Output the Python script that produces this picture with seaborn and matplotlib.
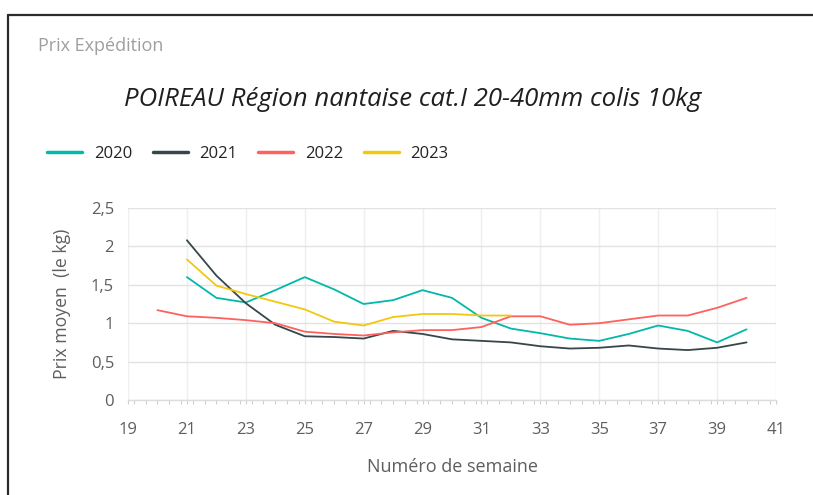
import matplotlib
matplotlib.use("Agg")
import matplotlib.pyplot as plt
import matplotlib.ticker as mticker
from matplotlib.lines import Line2D
import numpy as np
import pandas as pd
import seaborn as sns

# ---- data ----
weeks_2020 = [21, 22, 23, 24, 25, 26, 27, 28, 29, 30, 31, 32, 33, 34, 35, 36, 37, 38, 39, 40]
prix_2020 = [1.60, 1.33, 1.27, 1.43, 1.60, 1.44, 1.25, 1.30, 1.43, 1.33, 1.07, 0.93, 0.87, 0.80, 0.77, 0.86, 0.97, 0.90, 0.75, 0.92]

weeks_2021 = [21, 22, 23, 24, 25, 26, 27, 28, 29, 30, 31, 32, 33, 34, 35, 36, 37, 38, 39, 40]
prix_2021 = [2.08, 1.62, 1.26, 0.98, 0.83, 0.82, 0.80, 0.90, 0.86, 0.79, 0.77, 0.75, 0.70, 0.67, 0.68, 0.71, 0.67, 0.65, 0.68, 0.75]

weeks_2022 = [20, 21, 22, 23, 24, 25, 26, 27, 28, 29, 30, 31, 32, 33, 34, 35, 36, 37, 38, 39, 40]
prix_2022 = [1.17, 1.09, 1.07, 1.04, 1.00, 0.89, 0.86, 0.84, 0.88, 0.91, 0.91, 0.95, 1.09, 1.09, 0.98, 1.00, 1.05, 1.10, 1.10, 1.20, 1.33]

weeks_2023 = [21, 22, 23, 24, 25, 26, 27, 28, 29, 30, 31, 32]
prix_2023 = [1.83, 1.49, 1.38, 1.28, 1.18, 1.02, 0.97, 1.08, 1.12, 1.12, 1.10, 1.10]

years = ["2020", "2021", "2022", "2023"]
x_ticks = [19, 21, 23, 25, 27, 29, 31, 33, 35, 37, 39, 41]
y_ticks = [0, 0.5, 1, 1.5, 2, 2.5]

frames = []
for yr, w, p in zip(years, [weeks_2020, weeks_2021, weeks_2022, weeks_2023],
                    [prix_2020, prix_2021, prix_2022, prix_2023]):
    frames.append(pd.DataFrame({"Semaine": w, "Prix": p, "Année": yr}))
df = pd.concat(frames, ignore_index=True)

palette = {"2020": "#01B8AA", "2021": "#374649", "2022": "#FD625E", "2023": "#F2C80F"}

# ---- styling ----
sns.set_theme(style="white")
plt.rcParams["font.family"] = ["Open Sans", "DejaVu Sans"]

W, H = 813, 495
fig = plt.figure(figsize=(W / 100, H / 100), dpi=100)
fig.patch.set_facecolor("white")

ax_l, ax_r, ax_t, ax_b = 128, 776, 208, 400
ax = fig.add_axes([ax_l / W, 1 - ax_b / H, (ax_r - ax_l) / W, (ax_b - ax_t) / H])

sns.lineplot(data=df, x="Semaine", y="Prix", hue="Année", palette=palette,
             linewidth=1.3, ax=ax, legend=False, sort=True)

ax.set_xlim(19, 41)
ax.set_ylim(0, 2.5)
ax.set_xticks(x_ticks)
ax.set_yticks(y_ticks)
ax.xaxis.set_minor_locator(mticker.MultipleLocator(0.4))
ax.yaxis.set_major_formatter(mticker.FuncFormatter(lambda v, p: (f"{v:g}").replace(".", ",")))

tick_col = "#605E5C"
ax.tick_params(axis="x", which="both", direction="out", length=3, width=0.8,
               color="#cfcfcf", labelsize=12, labelcolor=tick_col, pad=13, bottom=True)
ax.tick_params(axis="y", which="both", length=0, labelsize=12, labelcolor=tick_col, pad=10)

ax.grid(axis="y", color="#e2e2e2", linewidth=1.0)
ax.grid(axis="x", which="major", color="#efefef", linewidth=1.0)
ax.set_axisbelow(True)
for s in ["top", "right", "left"]:
    ax.spines[s].set_visible(False)
ax.spines["bottom"].set_color("#dcdcdc")
ax.spines["bottom"].set_linewidth(1.0)

ax.set_xlabel("Numéro de semaine", fontsize=13, color=tick_col)
ax.xaxis.set_label_coords(0.5, (ax_b - 467) / (ax_b - ax_t))
ax.xaxis.label.set_va("center")
ax.set_ylabel("Prix moyen  (le kg)", fontsize=12.7, color=tick_col)
ax.yaxis.set_label_coords((62 - ax_l) / (ax_r - ax_l), (ax_b - 304) / (ax_b - ax_t))
ax.yaxis.label.set_va("center")

# legend
handles = [Line2D([0], [0], color=palette[y], linewidth=2.5) for y in years]
fig.legend(handles, years, loc="center left", bbox_to_anchor=(32 / W, 1 - 154 / H),
           ncol=4, frameon=False, fontsize=12, handlelength=2.1, handletextpad=0.7,
           columnspacing=1.25, labelcolor="#252423")

# titles
fig.text(38 / W, 1 - 46 / H, "Prix Expédition", fontsize=13, color="#a19f9d",
         ha="left", va="center")
fig.text(413 / W, 1 - 100 / H, "POIREAU Région nantaise cat.I 20-40mm colis 10kg",
         fontsize=18.5, style="italic", color="#1f1f1f", ha="center", va="center")

# panel border (top and left edges)
fig.add_artist(Line2D([7.5 / W, 1], [1 - 14.5 / H, 1 - 14.5 / H], transform=fig.transFigure,
                      color="#2b2b2b", linewidth=1.6))
fig.add_artist(Line2D([7.5 / W, 7.5 / W], [0, 1 - 14.5 / H], transform=fig.transFigure,
                      color="#2b2b2b", linewidth=1.6))

fig.savefig("out.png", dpi=100, facecolor="white")
